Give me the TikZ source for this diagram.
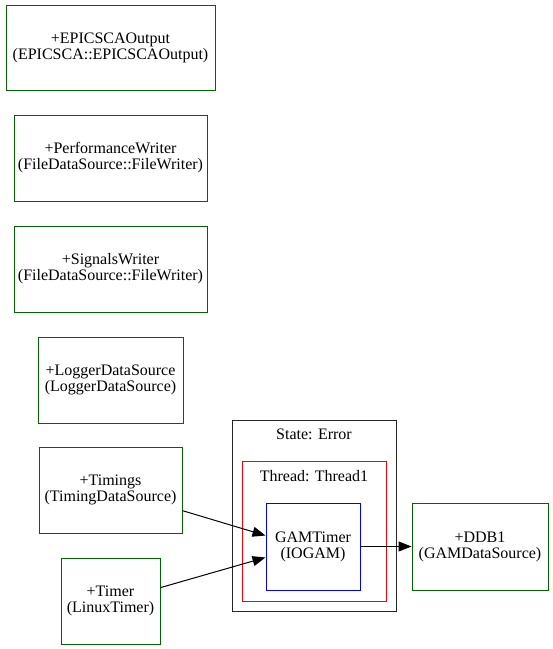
\documentclass[tikz,border=0pt]{standalone}
\usepackage{fontspec}
\setmainfont{Liberation Serif}
\usetikzlibrary{arrows.meta}
\definecolor{dkgreen}{HTML}{006400}
\begin{document}
\begin{tikzpicture}[x=1pt,y=-1pt,
  every node/.style={font=\fontsize{16}{16}\selectfont, align=center, inner sep=0pt},
  dsbox/.style={draw=dkgreen, line width=1pt, rectangle},
  gambox/.style={draw=blue, line width=1pt, rectangle},
  conn/.style={draw=black, line width=1pt, -{Triangle[length=13pt,width=10pt]}}]
\useasboundingbox (0,0) rectangle (553,649);
% clusters
\draw[line width=1pt, draw=black!85] (232,420) rectangle (396,611);
\node (statelbl) at (314,434) {State: Error};
\draw[line width=1pt, draw=red] (242,461) rectangle (386,601);
\node (threadlbl) at (314,476) {Thread: Thread1};
% nodes
\node[dsbox, minimum width=209pt, minimum height=85pt] (epics) at (110.5,47.5) {+EPICSCAOutput\\(EPICSCA::EPICSCAOutput)};
\node[dsbox, minimum width=193pt, minimum height=86pt] (perf) at (110.5,158) {+PerformanceWriter\\(FileDataSource::FileWriter)};
\node[dsbox, minimum width=193pt, minimum height=86pt] (sig) at (110.5,269) {+SignalsWriter\\(FileDataSource::FileWriter)};
\node[dsbox, minimum width=145pt, minimum height=86pt] (logger) at (110.5,380) {+LoggerDataSource\\(LoggerDataSource)};
\node[dsbox, minimum width=143pt, minimum height=86pt] (timings) at (110.5,490) {+Timings\\(TimingDataSource)};
\node[dsbox, minimum width=99pt, minimum height=86pt] (timer) at (110.5,601) {+Timer\\(LinuxTimer)};
\node[gambox, minimum width=94pt, minimum height=87pt] (gam) at (313,546.5) {GAMTimer\\(IOGAM)};
\node[dsbox, minimum width=136pt, minimum height=87pt] (ddb) at (480,546.5) {+DDB1\\(GAMDataSource)};
% connectors
\draw[conn] (timings.-16.4) -- (gam.167.4);
\draw[conn] (timer.15.8) -- (gam.193.7);
\draw[conn] (gam.east) -- (ddb.west);
\end{tikzpicture}
\end{document}
